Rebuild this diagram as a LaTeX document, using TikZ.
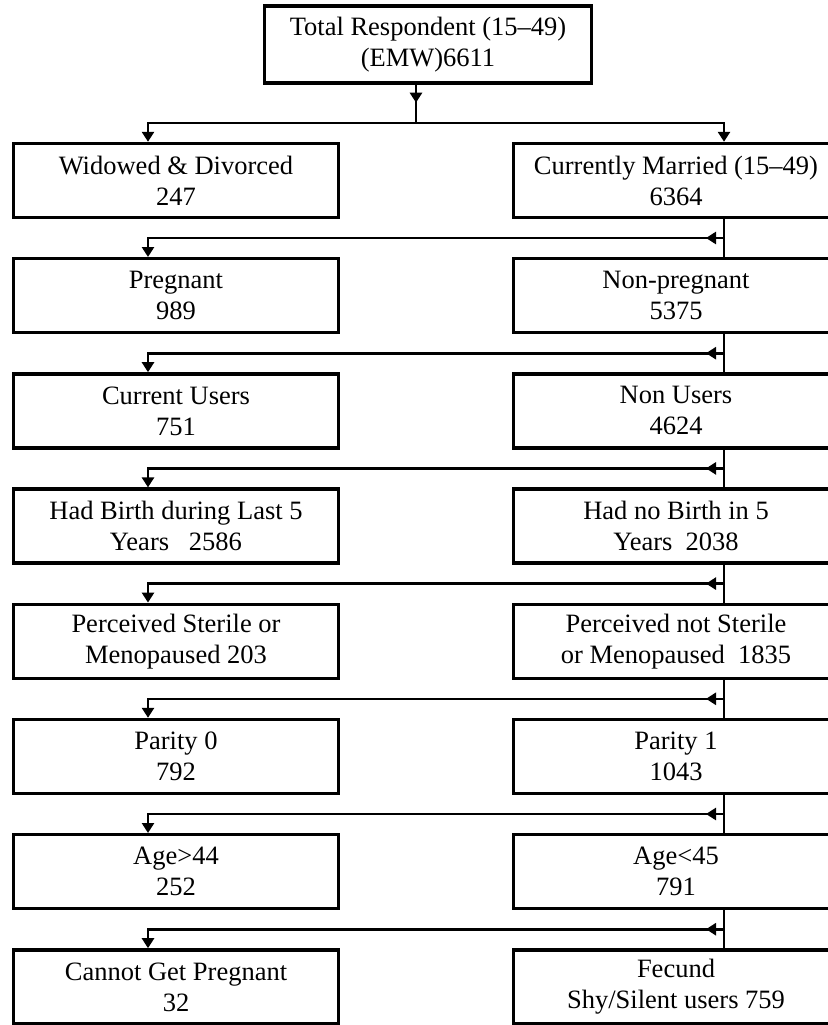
\documentclass[tikz,border=0pt]{standalone}
\usepackage{fontspec}
\setmainfont{Liberation Serif}
\usetikzlibrary{arrows.meta,decorations.markings,calc}
\tikzset{
  box/.style={draw, line width=3.4pt, minimum width=325pt, minimum height=74pt, align=center, inner sep=0pt, font=\fontsize{26.5}{31}\selectfont},
  conn/.style={line width=2.6pt},
  tip/.style={-{Triangle[length=10pt,width=12pt]}},
  midleft/.style={postaction=decorate, decoration={markings, mark=at position 18pt with {\arrow{Triangle[length=10pt,width=12pt]}}}},
  middown/.style={postaction=decorate, decoration={markings, mark=at position 18pt with {\arrow{Triangle[length=10pt,width=12pt]}}}}
}
\begin{document}
\begin{tikzpicture}[x=1pt,y=1pt]
\useasboundingbox (0,0) rectangle (827,-1025);
\fill[white] (0,0) rectangle (827,-1025);
\node[box, minimum width=327pt, minimum height=77pt] (T) at (428,-44.5) {Total Respondent (15--49)\\(EMW)6611};
% rows
\node[box] (L1) at (176,-180.5) {Widowed \& Divorced\\247};
\node[box] (R1) at (676,-180.5) {Currently Married (15--49)\\6364};
\node[box] (L2) at (176,-295.7) {Pregnant\\989};
\node[box] (R2) at (676,-295.7) {Non-pregnant\\5375};
\node[box] (L3) at (176,-410.9) {Current Users\\751};
\node[box] (R3) at (676,-410.9) {Non Users\\4624};
\node[box] (L4) at (176,-526.1) {Had Birth during Last 5\\Years\ \ \ 2586};
\node[box] (R4) at (676,-526.1) {Had no Birth in 5\\Years\ \ 2038};
\node[box] (L5) at (176,-641.3) {Perceived Sterile or\\Menopaused 203};
\node[box] (R5) at (676,-641.3) {Perceived not Sterile\\or Menopaused\ \ 1835};
\node[box] (L6) at (176,-756.5) {Parity 0\\792};
\node[box] (R6) at (676,-756.5) {Parity 1\\1043};
\node[box] (L7) at (176,-871.7) {Age>44\\252};
\node[box] (R7) at (676,-871.7) {Age<45\\791};
\node[box] (L8) at (176,-986.9) {Cannot Get Pregnant\\32};
\node[box] (R8) at (676,-986.9) {Fecund\\Shy/Silent users 759};
% top split
\coordinate (j0) at (416,-123);
\draw[conn, middown] (T.south -| j0) -- (j0);
\draw[conn, tip] (j0) -| ([xshift=-28pt]L1.north);
\draw[conn, tip] (j0) -| ([xshift=48pt]R1.north);
% cascade
\foreach \i/\n in {1/2,2/3,3/4,4/5,5/6,6/7,7/8}{
  \draw[conn] ([xshift=48pt]R\i.south) -- ([xshift=48pt]R\n.north);
  \coordinate (j\i) at ($([xshift=48pt]R\n.north)+(0,19)$);
  \draw[conn, tip, midleft] (j\i) -| ([xshift=-28pt]L\n.north);
}
\end{tikzpicture}
\end{document}
